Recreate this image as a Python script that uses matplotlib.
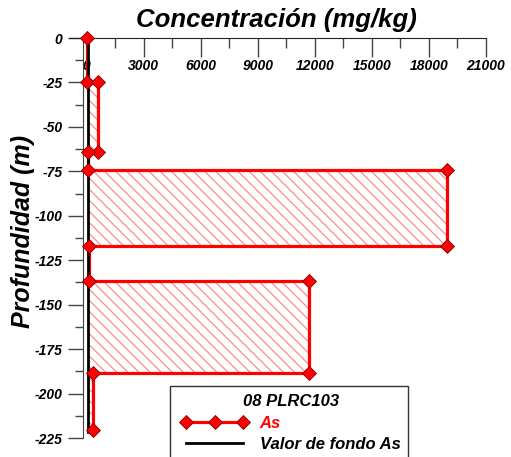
import matplotlib
matplotlib.use("Agg")
import matplotlib.pyplot as plt
from matplotlib.lines import Line2D
from matplotlib.patches import Rectangle
from matplotlib.ticker import MultipleLocator

# As concentration per sampled interval (depths in m, values in mg/kg)
tops = [0, 25, 64, 74, 117, 136.5, 188.5]
bottoms = [25, 64, 74, 117, 136.5, 188.5, 220.5]
as_vals = [10, 590, 60, 18960, 120, 11710, 360]

# background value for As
fondo_as = 80
fondo_depths = [0, 221.5]

x_ticks = [0, 3000, 6000, 9000, 12000, 15000, 18000, 21000]
y_ticks = [0, -25, -50, -75, -100, -125, -150, -175, -200, -225]

plt.rcParams['hatch.color'] = '#ff8a8a'
plt.rcParams['hatch.linewidth'] = 0.9

W, H = 511, 457
fig = plt.figure(figsize=(W / 100, H / 100), dpi=100)

def fx(px):
    return px / W

def fy(py):
    return 1 - py / H

ax = fig.add_axes([fx(69), fy(438), fx(486) - fx(69), fy(38) - fy(438)])
ax.set_xlim(-920, 21000)
ax.set_ylim(-225, 0)

tick_font = dict(family='Liberation Sans', weight='bold', style='italic', size=10)

# hatched bars from zero to each interval value
for top, bot, v in zip(tops, bottoms, as_vals):
    ax.fill_betweenx([-top, -bot], 0, v, hatch='\\\\\\', facecolor='none',
                     edgecolor='#ff8a8a', linewidth=0, zorder=1)

# stepped profile
xs, ys = [], []
for top, bot, v in zip(tops, bottoms, as_vals):
    xs += [v, v]
    ys += [-top, -bot]
ax.plot(xs, ys, color='#ff0000', lw=2.3, zorder=3, solid_joinstyle='miter')
ax.plot([fondo_as, fondo_as], [-d for d in fondo_depths], color='black', lw=2.0, zorder=4)
ax.plot(xs, ys, linestyle='none', marker='D', ms=7, mfc='#ff0000',
        mec='#7a0000', mew=0.6, zorder=5, clip_on=False)

# axes styling
for s in ['bottom', 'right']:
    ax.spines[s].set_visible(False)
ax.spines['top'].set_color('#222222')
ax.spines['left'].set_color('#444444')
ax.spines['left'].set_position(('data', -200))
ax.spines['left'].set_bounds(-225, 0)

ax.xaxis.set_ticks_position('top')
ax.xaxis.set_label_position('top')
ax.set_xticks(x_ticks)
ax.set_xticklabels([str(t) for t in x_ticks], fontdict=tick_font)
ax.xaxis.set_minor_locator(MultipleLocator(1500))
ax.tick_params(axis='x', which='major', direction='in', length=14, width=1,
               color='#444444', pad=-25)
ax.tick_params(axis='x', which='minor', direction='in', length=7, width=1,
               color='#444444')

ax.set_yticks(y_ticks)
ax.set_yticklabels([str(t) for t in y_ticks], fontdict=tick_font)
ax.yaxis.set_minor_locator(MultipleLocator(12.5))
ax.tick_params(axis='y', which='major', direction='out', length=10.5, width=1,
               color='#444444', pad=4)
ax.tick_params(axis='y', which='minor', direction='out', length=6, width=1,
               color='#444444')

fig.text(fx(276), fy(27), 'Concentración (mg/kg)', ha='center', va='baseline',
         family='Liberation Sans', weight='bold', style='italic', size=18.5)
fig.text(fx(30.5), fy(231), 'Profundidad (m)', ha='center', va='baseline',
         rotation=90, rotation_mode='anchor',
         family='Liberation Sans', weight='bold', style='italic', size=18)

# legend
fig.patches.append(Rectangle((fx(170), fy(470)), fx(408) - fx(170), fy(386) - fy(470),
                             transform=fig.transFigure, facecolor='white',
                             edgecolor='#333333', lw=1, zorder=6))
handles = [
    Line2D([], [], color='#ff0000', lw=2.3, marker='D', ms=7, mfc='#ff0000',
           mec='#7a0000', mew=0.6),
    Line2D([], [], color='black', lw=2.0),
]
leg = fig.legend(handles, ['As', 'Valor de fondo As'], loc='upper left',
                 bbox_to_anchor=(fx(178), fy(391)), bbox_transform=fig.transFigure,
                 frameon=False, numpoints=3, handlelength=4.0, handletextpad=0.7,
                 labelspacing=0.38, borderpad=0.2, borderaxespad=0,
                 title='08 PLRC103',
                 title_fontproperties=dict(family='Liberation Sans', weight='bold',
                                           style='italic', size=12),
                 prop=dict(family='Liberation Sans', weight='bold', style='italic', size=12))
leg.set_zorder(7)
leg.get_texts()[0].set_color('#ff0000')

fig.savefig('out.png', dpi=100)
